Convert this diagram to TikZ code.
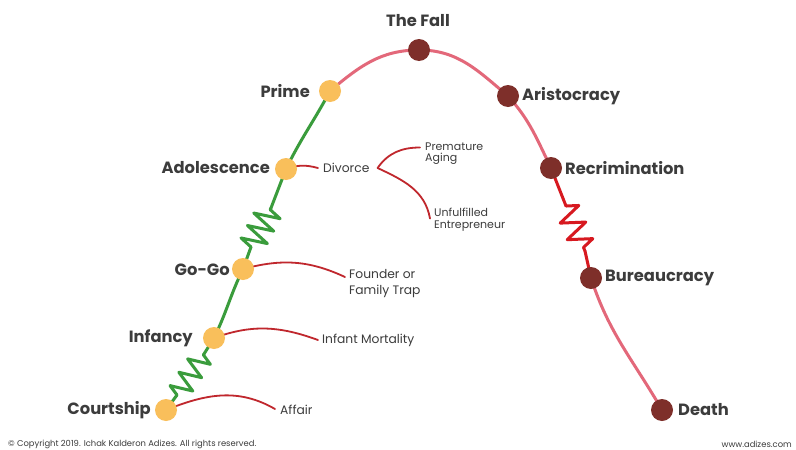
\documentclass[tikz,border=0pt]{standalone}
\usepackage{fontspec}
\setmainfont{Poppins}
\usetikzlibrary{decorations.pathmorphing,backgrounds}
\definecolor{lcgreen}{HTML}{3A9C3C}
\definecolor{lcpink}{HTML}{E3687A}
\definecolor{lczig}{HTML}{D71920}
\definecolor{lcbranch}{HTML}{C0272D}
\definecolor{lcyellow}{HTML}{F9BF5B}
\definecolor{lcdark}{HTML}{7E2F2A}
\definecolor{lctext}{HTML}{3C3C3C}
\begin{document}
\begin{tikzpicture}[x=1pt,y=-1pt,
  yel/.style={circle,fill=lcyellow,minimum size=22pt,inner sep=0pt},
  dred/.style={circle,fill=lcdark,minimum size=22pt,inner sep=0pt},
  big/.style={font=\fontsize{16.3}{18}\selectfont\bfseries,text=lctext,inner sep=0pt},
  small/.style={font=\fontsize{12.3}{16}\selectfont,text=lctext,inner sep=0pt,align=left},
  tiny/.style={font=\fontsize{11}{11.5}\selectfont,text=lctext,inner sep=0pt,align=left},
  foot/.style={font=\fontsize{8.4}{9}\selectfont,text=lctext,inner sep=0pt},
  gline/.style={draw=lcgreen,line width=3pt,line join=round,line cap=round},
  pline/.style={draw=lcpink,line width=3pt,line join=round,line cap=round},
  zline/.style={draw=lczig,line width=3pt,line join=round,line cap=round},
  bline/.style={draw=lcbranch,line width=1.8pt,line cap=round},
  zz/.style 2 args={decorate,decoration={zigzag,segment length=#1,amplitude=#2}}
]
\useasboundingbox (0,0) rectangle (796,450);

% stage nodes
\node[yel]  (court) at (166,410) {};
\node[yel]  (inf)   at (214,338) {};
\node[yel]  (gogo)  at (243,269) {};
\node[yel]  (adol)  at (286,169) {};
\node[yel]  (prime) at (330,91) {};
\node[dred] (fall)  at (419,50) {};
\node[dred] (aris)  at (508,96) {};
\node[dred] (recr)  at (551,168) {};
\node[dred] (bur)   at (591,278) {};
\node[dred] (death) at (662,410) {};

% zigzag end points
\coordinate (z1a) at (177,395);
\coordinate (z1b) at (204,354);
\coordinate (z2a) at (251,247);
\coordinate (z2b) at (271,208);
\coordinate (z3a) at (566,206);
\coordinate (z3b) at (585,251);

% stage labels
\node[big,anchor=east] (lcourt) at (151,410) {Courtship};
\node[big,anchor=east] (linf)   at (193,338) {Infancy};
\node[big,anchor=east] (lgogo)  at (230,270) {Go-Go};
\node[big,anchor=east] (ladol)  at (270,168) {Adolescence};
\node[big,anchor=east] (lprime) at (310,91) {Prime};
\node[big] (lfall) at (418,21) {The Fall};
\node[big,anchor=west] (laris)  at (522,96) {Aristocracy};
\node[big,anchor=west] (lrecr)  at (565,168) {Recrimination};
\node[big,anchor=west] (lbur)   at (605,278) {Bureaucracy};
\node[big,anchor=west] (ldeath) at (678,410) {Death};

% trap labels
\node[small,anchor=west] (affair)  at (280,410) {Affair};
\node[small,anchor=west] (infmort) at (322,340) {Infant Mortality};
\node[small,anchor=west] (founder) at (349,284) {Founder or\\Family Trap};
\node[small,anchor=west] (divorce) at (323,168) {Divorce};
\node[tiny,anchor=west] (premat) at (425,153.5) {Premature\\Aging};
\node[tiny,anchor=west] (unful)  at (434,219.5) {Unfulfilled\\Entrepreneur};

% footer
\node[foot,anchor=west] (copy) at (8,444) {© Copyright 2019. Ichak Kalderon Adizes. All rights reserved.};
\node[foot,anchor=east] (web)  at (792,444) {www.adizes.com};

\begin{pgfonlayer}{background}
  \fill[white] (0,0) rectangle (796,450);
  % growing side
  \draw[gline] (court.center) -- (z1a);
  \draw[gline,zz={16}{11}] (z1a) -- (z1b);
  \draw[gline] (z1b) -- (inf.center);
  \draw[gline] (inf.center) to[out=64,in=-116] (gogo.center);
  \draw[gline] (gogo.center) -- (z2a);
  \draw[gline,zz={14}{13}] (z2a) -- (z2b);
  \draw[gline] (z2b) -- (adol.center);
  \draw[gline] (adol.center) to[out=64,in=-118] (prime.center);
  % aging side
  \draw[pline] (prime.center) to[out=40,in=180] (fall.center);
  \draw[pline] (fall.center) to[out=0,in=140] (aris.center);
  \draw[pline] (aris.center) to[out=-48,in=116] (recr.center);
  \draw[zline] (recr.center) -- (z3a);
  \draw[zline,zz={18}{12}] (z3a) -- (z3b);
  \draw[zline] (z3b) -- (bur.center);
  \draw[pline] (bur.center) to[out=-72,in=120] (death.center);
  % traps
  \draw[bline] (court.center) to[out=22,in=150] ([xshift=-5pt,yshift=1pt]affair.west);
  \draw[bline] (inf.center) to[out=20,in=160] ([xshift=-4pt]infmort.west);
  \draw[bline] (gogo.center) to[out=15,in=155] ([xshift=-4pt,yshift=7pt]founder.west);
  \draw[bline] (adol.center) to[out=20,in=165] ([xshift=-5pt]divorce.west);
  \draw[bline] ([xshift=8pt]divorce.east) to[out=55,in=180] ([xshift=-5pt,yshift=6pt]premat.west);
  \draw[bline] ([xshift=8pt]divorce.east) to[out=-25,in=100] ([xshift=-4pt,yshift=1pt]unful.west);
\end{pgfonlayer}
\end{tikzpicture}
\end{document}
